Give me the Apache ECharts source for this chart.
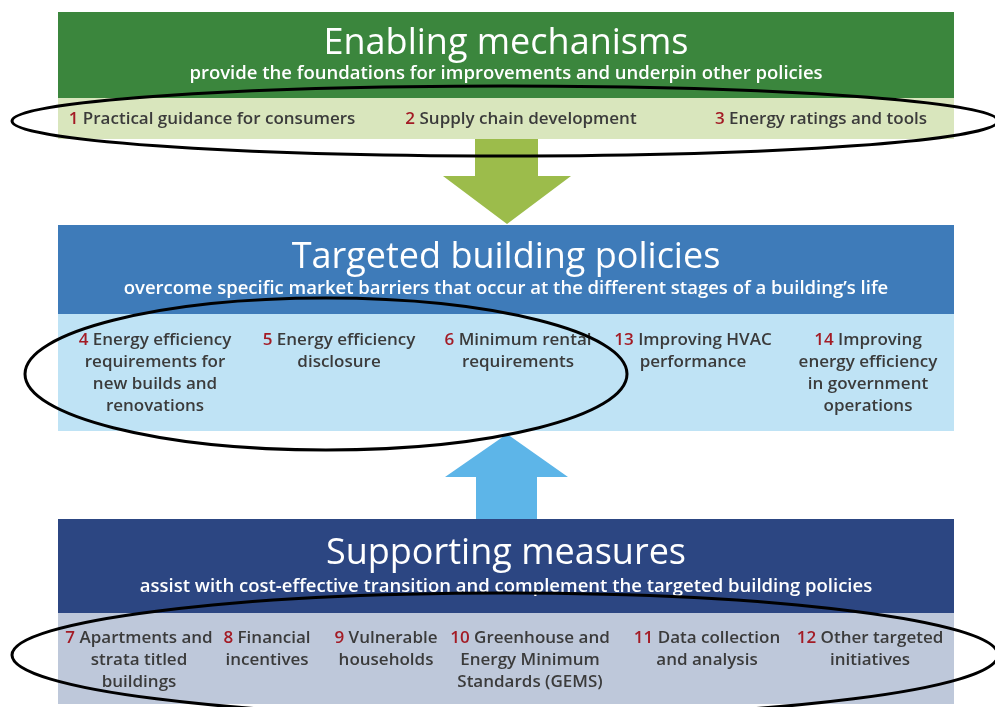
<!DOCTYPE html>
<html><head><meta charset="utf-8">
<script src="https://cdn.jsdelivr.net/npm/echarts@6/dist/echarts.min.js"></script>
<style>html,body{margin:0;padding:0;background:#fff}#c{width:995px;height:707px}</style>
</head><body><div id="c"></div>
<script>
// ---- content ----
const panelTitles = ['Enabling mechanisms', 'Targeted building policies', 'Supporting measures'];
const panelSubtitles = [
  'provide the foundations for improvements and underpin other policies',
  'overcome specific market barriers that occur at the different stages of a building\u2019s life',
  'assist with cost-effective transition and complement the targeted building policies'
];
const enablingItems = [
  ['1', ['Practical guidance for consumers']],
  ['2', ['Supply chain development']],
  ['3', ['Energy ratings and tools']]
];
const targetedItems = [
  ['4', ['Energy efficiency', 'requirements for', 'new builds and', 'renovations']],
  ['5', ['Energy efficiency', 'disclosure']],
  ['6', ['Minimum rental', 'requirements']],
  ['13', ['Improving HVAC', 'performance']],
  ['14', ['Improving', 'energy efficiency', 'in government', 'operations']]
];
const supportingItems = [
  ['7', ['Apartments and', 'strata titled', 'buildings']],
  ['8', ['Financial', 'incentives']],
  ['9', ['Vulnerable', 'households']],
  ['10', ['Greenhouse and', 'Energy Minimum', 'Standards (GEMS)']],
  ['11', ['Data collection', 'and analysis']],
  ['12', ['Other targeted', 'initiatives']]
];

// ---- layout / style ----
const FONT = '"Open Sans", Lato, sans-serif';
const TITLE_F = '500 36px ' + FONT;
const SUB_F = '600 18.5px ' + FONT;
const ITEM_F = '600 17px ' + FONT;
const TXT = '#3b3b3b', RED = '#a31b25';
const X0 = 58, X1 = 954, CX = 506;
const panels = [
  {head: [12, 98], band: [98, 139], hc: '#3b863d', bc: '#d9e6bd', items: enablingItems,
   cols: [212, 521, 821], lineY: 119},
  {head: [225, 314], band: [314, 431], hc: '#3e7bb9', bc: '#bfe3f5', items: targetedItems,
   cols: [155, 339, 518, 693, 868], lineY: 340},
  {head: [519, 613], band: [613, 704], hc: '#2c4682', bc: '#bec8da', items: supportingItems,
   cols: [139, 267, 386, 530, 707, 870], lineY: 638}
];
const LH = 22;

const g = [];
panels.forEach((p, i) => {
  g.push({type: 'rect', shape: {x: X0, y: p.head[0], width: X1 - X0, height: p.head[1] - p.head[0]},
          style: {fill: p.hc}, z: 1});
  g.push({type: 'rect', shape: {x: X0, y: p.band[0], width: X1 - X0, height: p.band[1] - p.band[0]},
          style: {fill: p.bc}, z: 1});
  const hh = p.head[1] - p.head[0];
  g.push({type: 'text', x: CX, y: p.head[0] + hh * 0.37, z: 3,
          style: {text: panelTitles[i], fill: '#fff', font: TITLE_F, align: 'center', verticalAlign: 'middle'}});
  g.push({type: 'text', x: CX, y: p.head[0] + hh * 0.72, z: 3,
          style: {text: panelSubtitles[i], fill: '#fff', font: SUB_F, align: 'center', verticalAlign: 'middle'}});
  p.items.forEach((it, k) => {
    const [num, lines] = it;
    lines.forEach((ln, j) => {
      const y = p.lineY + j * LH;
      if (j === 0) {
        g.push({type: 'text', x: p.cols[k], y: y, z: 3,
          style: {text: '{n|' + num + '} {t|' + ln + '}', align: 'center', verticalAlign: 'middle',
            rich: {n: {fill: RED, font: ITEM_F}, t: {fill: TXT, font: ITEM_F}},
            font: ITEM_F, fill: TXT}});
      } else {
        g.push({type: 'text', x: p.cols[k], y: y, z: 3,
          style: {text: ln, fill: TXT, font: ITEM_F, align: 'center', verticalAlign: 'middle'}});
      }
    });
  });
});

// arrows
g.push({type: 'polygon', z: 2, shape: {points: [[475,139],[538,139],[538,176],[571,176],[507,224],[443,176],[475,176]]},
        style: {fill: '#9cbc4b'}});
g.push({type: 'polygon', z: 2, shape: {points: [[476,519],[537,519],[537,477],[568,477],[507,434],[445,477],[476,477]]},
        style: {fill: '#5db5e8'}});

// ellipses
g.push({type: 'ellipse', z: 5, shape: {cx: 505, cy: 121, rx: 493, ry: 35}, style: {fill: 'none', stroke: '#000', lineWidth: 3}});
g.push({type: 'ellipse', z: 5, shape: {cx: 326, cy: 374, rx: 301, ry: 76}, style: {fill: 'none', stroke: '#000', lineWidth: 3}});
g.push({type: 'ellipse', z: 5, shape: {cx: 505, cy: 655, rx: 493, ry: 62}, style: {fill: 'none', stroke: '#000', lineWidth: 3}});

const chart = echarts.init(document.getElementById('c'), null, {renderer: 'canvas'});
chart.setOption({animation: false, backgroundColor: '#fff', graphic: {elements: g}});
</script></body></html>
